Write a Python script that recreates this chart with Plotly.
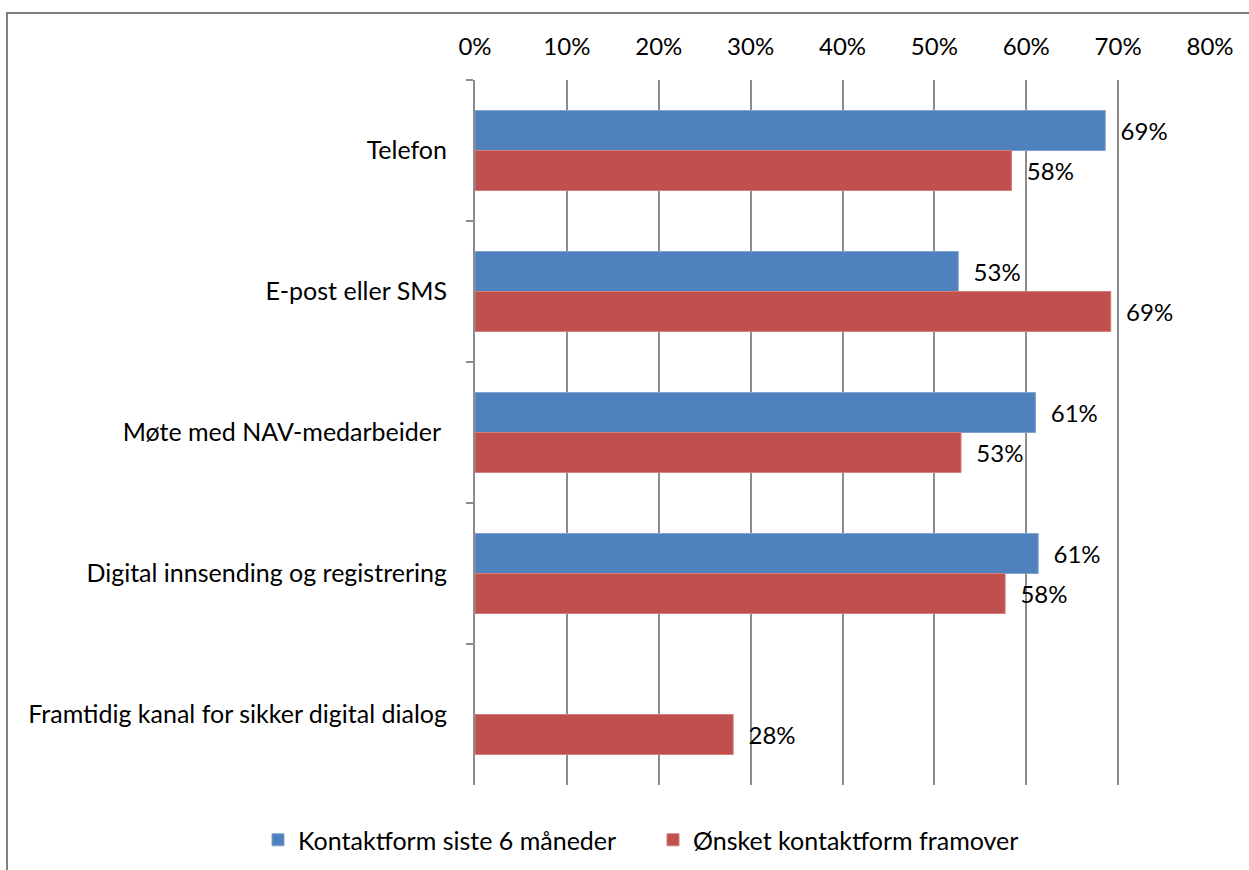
import plotly.graph_objects as go

categories = ["Telefon", "E-post eller SMS", "Møte med NAV-medarbeider ", "Digital innsending og registrering", "Framtidig kanal for sikker digital dialog"]
series_names = ["Kontaktform siste 6 måneder", "Ønsket kontaktform framover"]
last_6_months = [0.686, 0.526, 0.610, 0.613, None]
wanted_future = [0.584, 0.692, 0.529, 0.577, 0.281]
x_ticks = [0, 0.1, 0.2, 0.3, 0.4, 0.5, 0.6, 0.7, 0.8]

W, H = 1249, 870
L, R, T, B = 475, 39, 80, 85
FONT = "Lato"
FS = 24
GRAY = "#8c8c8c"

fig = go.Figure()
fig.add_trace(go.Bar(y=categories, x=last_6_months, orientation="h", name=series_names[0],
                     legend="legend",
                     marker=dict(color="#4F81BD", line=dict(color="#7fa3d0", width=1)),
                     texttemplate="\u00a0\u00a0%{x:.0%}", textposition="outside",
                     textfont=dict(size=FS, color="black", family=FONT), cliponaxis=False))
fig.add_trace(go.Bar(y=categories, x=wanted_future, orientation="h", name=series_names[1],
                     legend="legend2",
                     marker=dict(color="#C0504D", line=dict(color="#d67d7a", width=1)),
                     texttemplate="\u00a0\u00a0%{x:.0%}", textposition="outside",
                     textfont=dict(size=FS, color="black", family=FONT), cliponaxis=False))

pw, ph = W - L - R, H - T - B
def px(xp):
    return (xp - L) / pw
def py(yp):
    return (H - B - yp) / ph

legend_common = dict(orientation="h", xref="container", yref="container", y=1 - 840 / H,
                     xanchor="left", yanchor="middle", font=dict(size=25, family=FONT),
                     itemwidth=30, bgcolor="rgba(0,0,0,0)")

fig.update_layout(
    width=W, height=H,
    margin=dict(l=L, r=R, t=T, b=B),
    paper_bgcolor="white", plot_bgcolor="white",
    barmode="group", bargap=0.433, bargroupgap=0,
    font=dict(family=FONT, size=FS, color="black"),
    xaxis=dict(side="top", range=[0, 0.8], tickvals=x_ticks, tickformat=".0%",
               showgrid=True, gridcolor=GRAY, gridwidth=2, zeroline=False,
               showline=False, ticks="", ticklabelstandoff=19, tickfont=dict(size=FS, family=FONT)),
    yaxis=dict(autorange="reversed", showline=True, linecolor=GRAY, linewidth=2,
               ticks="outside", tickson="boundaries", ticklen=7, tickcolor=GRAY, tickwidth=2,
               ticklabelstandoff=21, showgrid=False, tickfont=dict(size=25, family=FONT)),
    legend=dict(x=(273 - 15) / W, **legend_common),
    legend2=dict(x=(668 - 15) / W, **legend_common),
    showlegend=True,
    shapes=[
        dict(type="line", xref="paper", yref="paper", x0=px(7), x1=px(7), y0=py(12), y1=py(H),
             line=dict(color="#808080", width=2), layer="above"),
        dict(type="line", xref="paper", yref="paper", x0=px(6), x1=px(W), y0=py(13), y1=py(13),
             line=dict(color="#808080", width=2), layer="above"),
    ],
)

fig.write_html("out.html", config={"displayModeBar": False},
               post_script="document.body.style.margin='0';")
